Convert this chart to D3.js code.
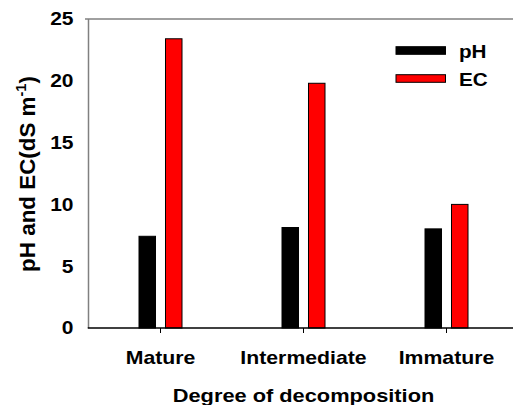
<!DOCTYPE html>
<html>
<head>
<meta charset="utf-8">
<script src="https://cdn.jsdelivr.net/npm/d3@7"></script>
<style>
  html, body { margin: 0; padding: 0; background: #fff; }
  svg { display: block; }
  text { font-family: "Liberation Sans", Arial, sans-serif; font-weight: bold; fill: #000; }
</style>
</head>
<body>
<script>
const categories = ["Mature", "Intermediate", "Immature"];
const seriesNames = ["pH", "EC"];
const phValues = [7.42, 8.13, 8.02];
const ecValues = [23.4, 19.8, 10.0];
const yTicks = [0, 5, 10, 15, 20, 25];
const xTitle = "Degree of decomposition";
const colors = { pH: "#000000", EC: "#ff0000" };

const W = 513, H = 405;
const svg = d3.select("body").append("svg").attr("width", W).attr("height", H);

const plotLeft = 88.5, plotTop = 19, plotBottom = 328;
const y = d3.scaleLinear().domain([0, 25]).range([plotBottom, plotTop]);
const x = d3.scalePoint().domain(categories).range([89, 518]).padding(0.5);
const sub = d3.scaleBand().domain(seriesNames).range([-21.5, 21.5]).paddingInner(0.377).paddingOuter(0);

const data = categories.map((c, i) => ({ cat: c, pH: phValues[i], EC: ecValues[i] }));

// frame lines
svg.append("line").attr("x1", 85).attr("x2", W).attr("y1", plotTop).attr("y2", plotTop)
  .attr("stroke", "#808080").attr("stroke-width", 1.5);
svg.append("line").attr("x1", plotLeft).attr("x2", plotLeft).attr("y1", plotTop).attr("y2", plotBottom)
  .attr("stroke", "#808080").attr("stroke-width", 1.5);

// bars
const groups = svg.selectAll("g.cat").data(data).join("g").attr("class", "cat")
  .attr("transform", d => `translate(${x(d.cat)},0)`);
groups.selectAll("rect").data(d => seriesNames.map(s => ({ s, v: d[s] }))).join("rect")
  .attr("x", d => sub(d.s))
  .attr("width", sub.bandwidth())
  .attr("y", d => y(d.v))
  .attr("height", d => y(0) - y(d.v))
  .attr("fill", d => colors[d.s])
  .attr("stroke", "#000")
  .attr("stroke-width", 1);

// bottom axis line
svg.append("line").attr("x1", plotLeft - 0.75).attr("x2", W).attr("y1", plotBottom).attr("y2", plotBottom)
  .attr("stroke", "#000").attr("stroke-width", 1.3);

// x ticks
svg.selectAll("line.xt").data(categories).join("line").attr("class", "xt")
  .attr("x1", d => x(d)).attr("x2", d => x(d))
  .attr("y1", plotBottom).attr("y2", plotBottom + 5)
  .attr("stroke", "#000").attr("stroke-width", 1);

// x tick labels
svg.selectAll("g.xl").data(categories).join("g").attr("class", "xl")
  .attr("transform", d => `translate(${x(d)},364) scale(1.13,1)`)
  .append("text").attr("text-anchor", "middle").attr("font-size", "18.8px").text(d => d);

// y tick labels
svg.selectAll("g.yl").data(yTicks).join("g").attr("class", "yl")
  .attr("transform", d => `translate(73.5,${y(d)}) scale(1.2,1)`)
  .append("text").attr("text-anchor", "end").attr("dy", "0.36em").attr("font-size", "17.5px").text(d => d);

// x title
svg.append("g").attr("transform", `translate(${x(categories[1])},401.5) scale(1.16,1)`)
  .append("text").attr("text-anchor", "middle").attr("font-size", "18.8px").text(xTitle);

// y title
const yt = svg.append("g").attr("transform", `translate(34.5,${(plotTop + plotBottom) / 2 + 0.5}) rotate(-90)`)
  .append("text").attr("text-anchor", "middle").attr("font-size", "22.4px");
yt.append("tspan").text("pH and EC(dS m");
yt.append("tspan").attr("font-size", "14.5px").attr("dy", "-8.5").text("-1");
yt.append("tspan").attr("dy", "8.5").text(")");

// legend
const legendRows = [50.5, 78.5];
const lg = svg.selectAll("g.lg").data(seriesNames).join("g").attr("class", "lg")
  .attr("transform", (d, i) => `translate(396,${legendRows[i]})`);
lg.append("rect").attr("x", 0).attr("y", -3.8).attr("width", 49.5).attr("height", 7.6)
  .attr("fill", d => colors[d]).attr("stroke", "#000").attr("stroke-width", 1);
lg.append("g").attr("transform", "translate(63,7.5) scale(1.1,1)")
  .append("text").attr("font-size", "18.8px").text(d => d);
</script>
</body>
</html>
